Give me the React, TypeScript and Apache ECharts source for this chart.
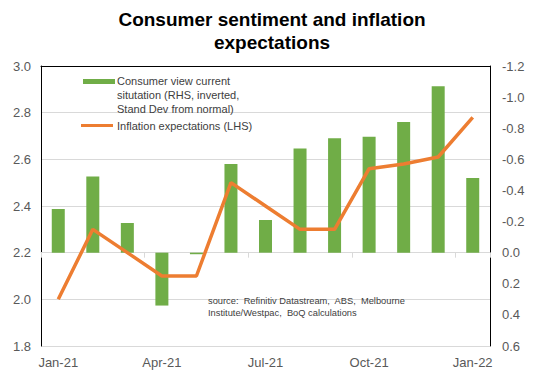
import React, { useEffect, useRef } from "react";
import * as echarts from "echarts";

const months = ["Jan-21", "Feb-21", "Mar-21", "Apr-21", "May-21", "Jun-21", "Jul-21", "Aug-21", "Sep-21", "Oct-21", "Nov-21", "Dec-21", "Jan-22"];
// Consumer view current situation (RHS, inverted, Stand Dev from normal)
const consumerView = [-0.28, -0.49, -0.19, 0.34, 0.01, -0.57, -0.21, -0.67, -0.735, -0.745, -0.84, -1.07, -0.48];
// Inflation expectations (LHS)
const inflationExp = [2.0, 2.3, 2.2, 2.1, 2.1, 2.5, 2.4, 2.3, 2.3, 2.56, 2.58, 2.61, 2.78];

const titleText = "Consumer sentiment and inflation\nexpectations";
const legendBarText = "Consumer view current\nsitutation (RHS, inverted,\nStand Dev from normal)";
const legendLineText = "Inflation expectations (LHS)";
const sourceText = "source:  Refinitiv Datastream,  ABS,  Melbourne\nInstitute/Westpac,  BoQ calculations";

const FONT = "'Liberation Sans', Arial, sans-serif";
const GREEN = "#70AD47";
const ORANGE = "#ED7D31";

export default function App() {
  const ref = useRef<HTMLDivElement>(null);
  useEffect(() => {
    document.body.style.margin = "0";
    const chart = echarts.init(ref.current!, null, { renderer: "svg" });
    chart.setOption({
      animation: false,
      backgroundColor: "#fff",
      title: {
        text: titleText,
        left: "center",
        top: 3,
        textStyle: { fontSize: 19, fontWeight: "bold", lineHeight: 23, color: "#000", fontFamily: FONT },
      },
      grid: { left: 41, right: 54, top: 66, bottom: 34, containLabel: false },
      xAxis: [
        {
          type: "category",
          data: months,
          boundaryGap: true,
          position: "bottom",
          axisLine: { lineStyle: { color: "#D9D9D9", width: 1 } },
          axisTick: { show: true, interval: 2, length: 5, alignWithLabel: false, lineStyle: { color: "#D9D9D9" } },
          axisLabel: { interval: 2, color: "#595959", fontSize: 13, fontFamily: FONT, margin: 10 },
          splitLine: { show: false },
        },
        {
          type: "category",
          data: months,
          position: "top",
          axisLine: { lineStyle: { color: "#000", width: 1 } },
          axisTick: { show: false },
          axisLabel: { show: false },
          splitLine: { show: false },
        },
      ],
      yAxis: [
        {
          type: "value",
          position: "left",
          min: 1.8,
          max: 3.0,
          interval: 0.2,
          axisLine: { show: true, lineStyle: { color: "#000", width: 1 } },
          axisTick: { show: false },
          axisLabel: { color: "#595959", fontSize: 13, fontFamily: FONT, margin: 10, formatter: (v: number) => v.toFixed(1) },
          splitLine: { show: true, lineStyle: { color: "#D9D9D9", width: 1 } },
        },
        {
          type: "value",
          position: "right",
          inverse: true,
          min: -1.2,
          max: 0.6,
          interval: 0.2,
          axisLine: { show: true, lineStyle: { color: "#000", width: 1 } },
          axisTick: { show: false },
          axisLabel: { color: "#595959", fontSize: 13, fontFamily: FONT, margin: 12, formatter: (v: number) => (Math.abs(v) < 1e-9 ? 0 : v).toFixed(1) },
          splitLine: { show: false },
        },
      ],
      series: [
        {
          name: "Consumer view current situtation (RHS, inverted, Stand Dev from normal)",
          type: "bar",
          yAxisIndex: 1,
          data: consumerView,
          barWidth: 13,
          itemStyle: { color: GREEN },
          z: 2,
        },
        {
          name: "Inflation expectations (LHS)",
          type: "line",
          yAxisIndex: 0,
          data: inflationExp,
          symbol: "none",
          lineStyle: { color: ORANGE, width: 3.5 },
          z: 3,
        },
      ],
      graphic: [
        { type: "rect", left: 83, top: 79, shape: { width: 32, height: 5 }, style: { fill: GREEN }, z: 10 },
        {
          type: "text",
          left: 117,
          top: 74,
          style: { text: legendBarText, fontSize: 11, fontFamily: FONT, fill: "#404040", lineHeight: 14 },
          z: 10,
        },
        { type: "rect", left: 81, top: 124, shape: { width: 32, height: 3 }, style: { fill: ORANGE }, z: 10 },
        {
          type: "text",
          left: 117,
          top: 119,
          style: { text: legendLineText, fontSize: 11, fontFamily: FONT, fill: "#404040", lineHeight: 14 },
          z: 10,
        },
        {
          type: "text",
          left: 208,
          top: 295,
          style: { text: sourceText, fontSize: 9.3, fontFamily: FONT, fill: "#404040", lineHeight: 12 },
          z: 10,
        },
      ],
    });
    return () => chart.dispose();
  }, []);
  return <div ref={ref} style={{ width: 544, height: 380, position: "absolute", left: 0, top: 0 }} />;
}
